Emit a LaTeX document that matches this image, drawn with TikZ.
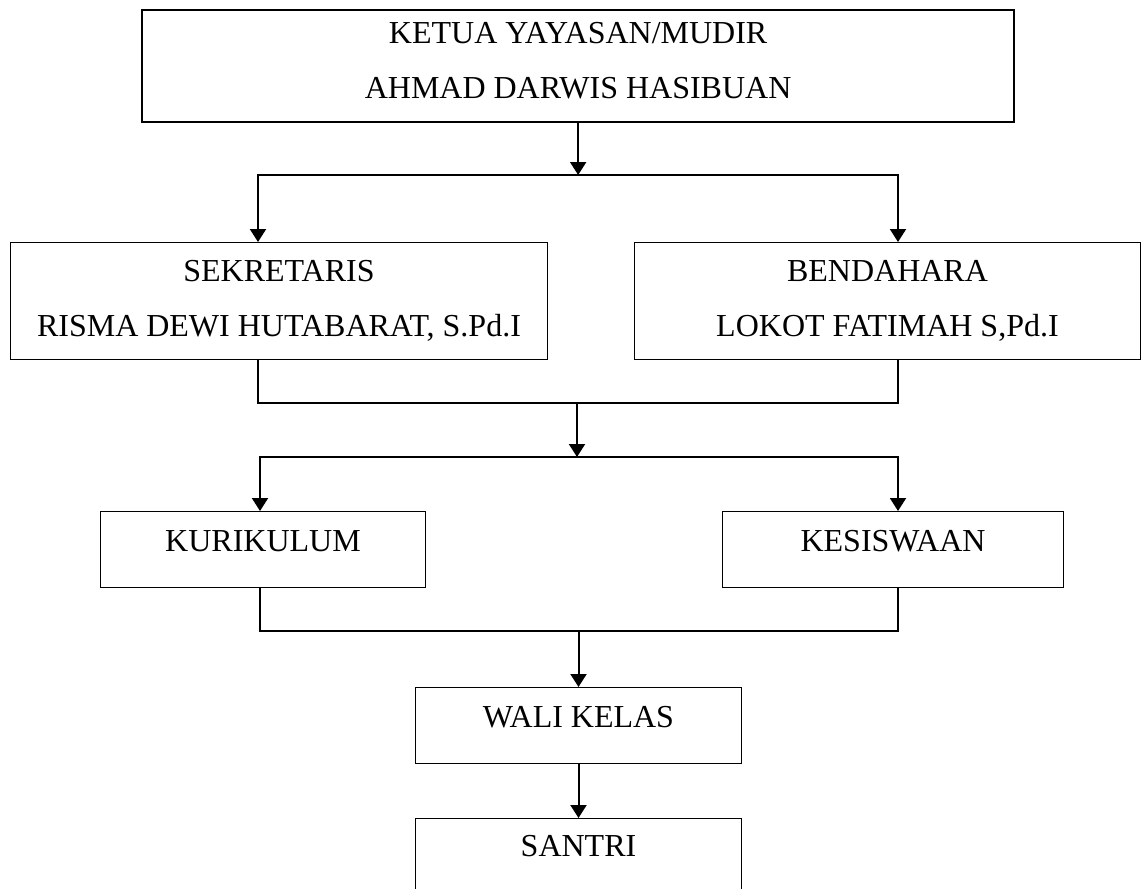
\documentclass[tikz,border=0pt]{standalone}
\usepackage{fontspec}
\setmainfont{Liberation Serif}
\usetikzlibrary{positioning, arrows.meta}
\tikzset{
		>={Triangle[length=13pt,width=16pt]},
		box/.style={draw, line width=1pt, inner sep=0pt, anchor=north west, align=center,
			text height=40pt, text depth=36pt, font=\fontsize{32}{55}\selectfont},
		link/.style={line width=2pt}
	}

\begin{document}
\begin{tikzpicture}[x=1pt, y=-1pt] % one unit = one pixel of the chart, y runs down
		\clip (0,0) rectangle (1142,888);
		% the boxes (text height is taken to the last line)
		\node[box, line width=2.3pt, minimum width=872pt, text height=88pt, text depth=24pt] (ketua) at (141,9) {KETUA YAYASAN/MUDIR\\AHMAD DARWIS HASIBUAN};
		\node[box, minimum width=537pt, text height=94pt, text depth=23pt] (sek) at (10,242) {SEKRETARIS\\RISMA DEWI HUTABARAT, S.Pd.I};
		\node[box, minimum width=506pt, text height=94pt, text depth=23pt] (ben) at (634,242) {BENDAHARA\\LOKOT FATIMAH S,Pd.I};
		\node[box, minimum width=325pt] (kur) at (100,511) {KURIKULUM};
		\node[box, minimum width=341pt] (kes) at (722,511) {KESISWAAN};
		\node[box, minimum width=326pt] (wali) at (415,687) {WALI KELAS};
		\node[box, minimum width=326pt, text height=38pt, text depth=40pt] (santri) at (415,818) {SANTRI};
		% the joints of the connectors
		\coordinate (split1) at (ketua.south |- 0,175);
		\coordinate (sekIn) at (258,242);
		\coordinate (benIn) at (898,242);
		\coordinate (sekOut) at (258,359);
		\coordinate (benOut) at (898,359);
		\coordinate (merge1) at (577,403);
		\coordinate (split2) at (577,457);
		\coordinate (kurIn) at (260,511);
		\coordinate (kesIn) at (898,511);
		\coordinate (kurOut) at (260,587);
		\coordinate (kesOut) at (898,587);
		\coordinate (merge2) at (wali.north |- 0,631);
		% the connectors
		\draw[link,->] (ketua.south) -- (split1);
		\draw[link,->] (split1) -| (sekIn);
		\draw[link,->] (split1) -| (benIn);
		\draw[link] (sekOut) |- (merge1) -| (benOut);
		\draw[link,->] (merge1) -- (split2);
		\draw[link,->] (split2) -| (kurIn);
		\draw[link,->] (split2) -| (kesIn);
		\draw[link] (kurOut) |- (merge2) -| (kesOut);
		\draw[link,->] (merge2) -- (wali.north);
		\draw[link,->] (wali.south) -- (santri.north);
	\end{tikzpicture}
\end{document}
